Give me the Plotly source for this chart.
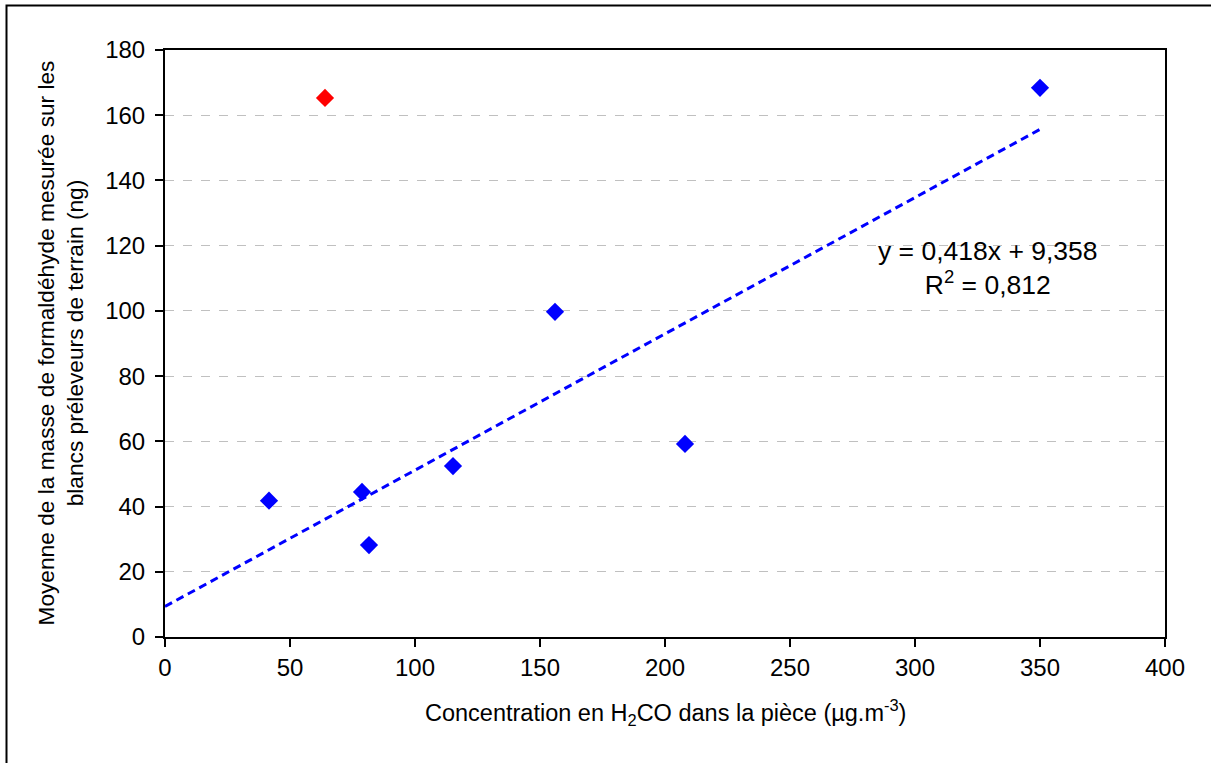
import plotly.graph_objects as go

# Data
conc_blue = [41.6, 78.8, 81.6, 115.2, 156.0, 208.0, 350.0]
mass_blue = [41.8, 44.5, 28.2, 52.4, 99.7, 59.2, 168.4]
conc_red = [64.0]
mass_red = [165.3]
slope = 0.418
intercept = 9.358
trend_x = [0, 350]
trend_y = [slope * x + intercept for x in trend_x]

x_ticks = [0, 50, 100, 150, 200, 250, 300, 350, 400]
y_ticks = [0, 20, 40, 60, 80, 100, 120, 140, 160, 180]

FONT = "Liberation Sans, Arial, sans-serif"

fig = go.Figure()
fig.add_trace(go.Scatter(x=trend_x, y=trend_y, mode="lines",
                         line=dict(color="#0000ff", width=3, dash="8px,5px"),
                         showlegend=False, hoverinfo="skip"))
fig.add_trace(go.Scatter(x=conc_blue, y=mass_blue, mode="markers",
                         marker=dict(symbol="diamond", size=14, color="#0000ff"),
                         showlegend=False))
fig.add_trace(go.Scatter(x=conc_red, y=mass_red, mode="markers",
                         marker=dict(symbol="diamond", size=14, color="#ff0000"),
                         showlegend=False))

fig.update_layout(
    width=1211, height=763,
    margin=dict(l=165, r=46, t=50, b=126),
    paper_bgcolor="white", plot_bgcolor="white",
    font=dict(family=FONT, color="black", size=23),
    xaxis=dict(range=[0, 400], tickvals=x_ticks, showgrid=False, zeroline=False,
               showline=True, linecolor="black", linewidth=2, mirror=True,
               ticks="outside", ticklen=8, tickwidth=2, tickcolor="black",
               tickfont=dict(size=24, family=FONT)),
    yaxis=dict(range=[0, 180], tickvals=y_ticks, showgrid=True, gridcolor="#c0c0c0",
               griddash="dash", gridwidth=1, zeroline=False,
               showline=True, linecolor="black", linewidth=2, mirror=True,
               ticks="outside", ticklen=8, tickwidth=2, tickcolor="black",
               ticklabelstandoff=5,
               tickfont=dict(size=24, family=FONT)),
)

fig.add_annotation(xref="paper", yref="paper", x=0.5, y=-0.128,
                   xanchor="center", yanchor="middle", showarrow=False,
                   text="Concentration en H<sub>2</sub>CO dans la pièce (µg.m<sup>-3</sup>)",
                   font=dict(size=23.5, family=FONT))
fig.add_annotation(xref="paper", yref="paper", x=(60 - 165) / 1000, y=0.5,
                   xanchor="center", yanchor="middle", showarrow=False, textangle=-90,
                   text="Moyenne de la masse de formaldéhyde mesurée sur les<br>blancs préleveurs de terrain (ng)",
                   font=dict(size=22.7, family=FONT))
fig.add_annotation(xref="x", yref="y", x=329.0, y=113.2,
                   xanchor="center", yanchor="middle", showarrow=False,
                   text="y = 0,418x + 9,358<br>R<sup>2</sup> = 0,812",
                   font=dict(size=26.5, family=FONT))

# Outer chart frame
fig.add_shape(type="rect", xref="paper", yref="paper",
              x0=(6.5 - 165) / 1000, x1=(1230 - 165) / 1000,
              y0=(637 - 780) / 587, y1=(637 - 5.5) / 587,
              line=dict(color="black", width=2), layer="below")

fig.write_html("out.html", config={"displayModeBar": False},
               post_script="document.body.style.margin='0';document.body.style.padding='0';")
